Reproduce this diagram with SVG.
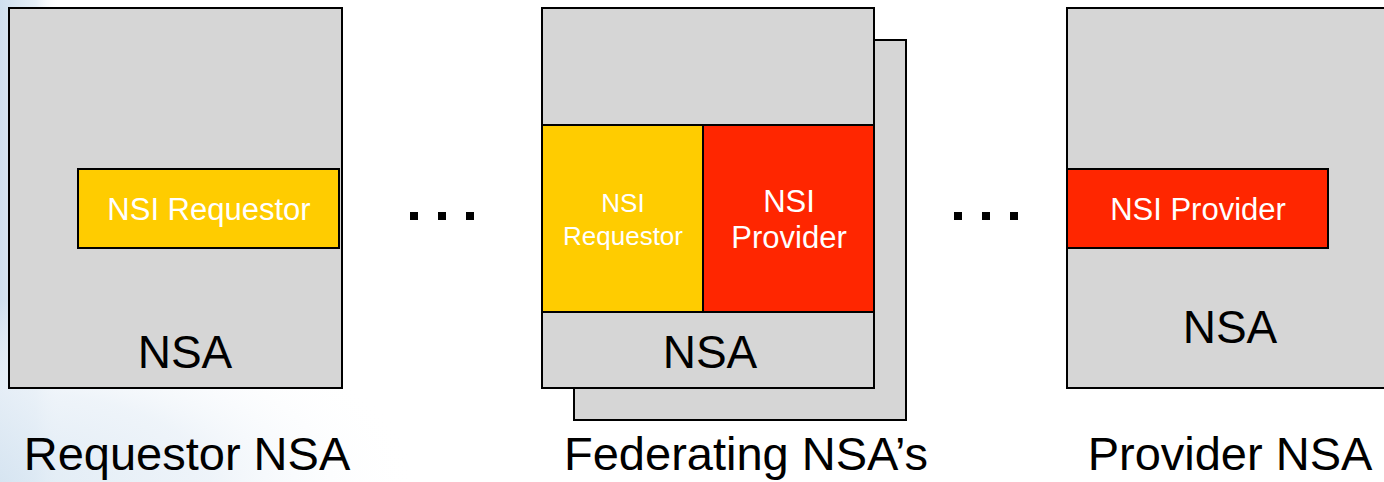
<svg xmlns="http://www.w3.org/2000/svg" width="1384" height="482" viewBox="0 0 1384 482">
  <defs>
    <linearGradient id="edgeGlow" x1="0" y1="0" x2="1" y2="0">
      <stop offset="0" stop-color="#cfdfee"/>
      <stop offset="0.6" stop-color="#e6eff7"/>
      <stop offset="1" stop-color="#ffffff" stop-opacity="0"/>
    </linearGradient>
    <radialGradient id="floorGlow" cx="0" cy="1" r="1" gradientUnits="objectBoundingBox">
      <stop offset="0" stop-color="#d8e6f2"/>
      <stop offset="0.5" stop-color="#eaf1f8"/>
      <stop offset="1" stop-color="#ffffff" stop-opacity="0"/>
    </radialGradient>
  </defs>
  <style>
    .nsa { fill: #d6d6d6; stroke: #000; stroke-width: 2; }
    .req { fill: #ffcc00; stroke: #000; stroke-width: 2; }
    .prov { fill: #ff2600; stroke: #000; stroke-width: 2; }
    .lbl { font-family: "Liberation Sans", Arial, sans-serif; text-anchor: middle; }
    .inner { fill: #ffffff; }
    .big { fill: #000; font-size: 46px; }
    .caption { fill: #000; font-size: 47px; }
    .dot { fill: #000; }
  </style>

  <!-- page background with soft blue wash on the left -->
  <rect x="0" y="0" width="1384" height="482" fill="#ffffff"/>
  <rect x="0" y="0" width="60" height="482" fill="url(#edgeGlow)"/>
  <rect x="0" y="300" width="420" height="182" fill="url(#floorGlow)" opacity="0.8"/>

  <!-- Requestor NSA -->
  <g id="requestor-nsa">
    <rect class="nsa" x="9" y="8" width="333" height="380"/>
    <rect class="req" x="78" y="169" width="261" height="79"/>
    <text class="lbl inner" x="209" y="220" font-size="31">NSI Requestor</text>
    <text class="lbl big" x="185" y="368">NSA</text>
    <text class="lbl caption" x="187" y="470">Requestor NSA</text>
  </g>

  <!-- Federating NSAs (stacked) -->
  <g id="federating-nsa">
    <rect class="nsa" x="574" y="40" width="332" height="380"/>
    <rect class="nsa" x="542" y="8" width="332" height="380"/>
    <rect class="req" x="542" y="125" width="161" height="187"/>
    <rect class="prov" x="703" y="125" width="171" height="187"/>
    <text class="lbl inner" x="623" y="212" font-size="26">NSI</text>
    <text class="lbl inner" x="623" y="245" font-size="26">Requestor</text>
    <text class="lbl inner" x="789" y="212" font-size="31">NSI</text>
    <text class="lbl inner" x="789" y="248" font-size="31">Provider</text>
    <text class="lbl big" x="710" y="368">NSA</text>
    <text class="lbl caption" x="746" y="470">Federating NSA’s</text>
  </g>

  <!-- Provider NSA -->
  <g id="provider-nsa">
    <rect class="nsa" x="1067" y="8" width="330" height="380"/>
    <rect class="prov" x="1067" y="169" width="261" height="79"/>
    <text class="lbl inner" x="1198" y="220" font-size="31">NSI Provider</text>
    <text class="lbl big" x="1230" y="343">NSA</text>
    <text class="lbl caption" x="1230" y="470">Provider NSA</text>
  </g>

  <!-- ellipsis between the NSAs -->
  <g id="connectors">
    <rect class="dot" x="410" y="212" width="8" height="8"/>
    <rect class="dot" x="438" y="212" width="8" height="8"/>
    <rect class="dot" x="466" y="212" width="8" height="8"/>
    <rect class="dot" x="954" y="212" width="8" height="8"/>
    <rect class="dot" x="982" y="212" width="8" height="8"/>
    <rect class="dot" x="1010" y="212" width="8" height="8"/>
  </g>
</svg>
